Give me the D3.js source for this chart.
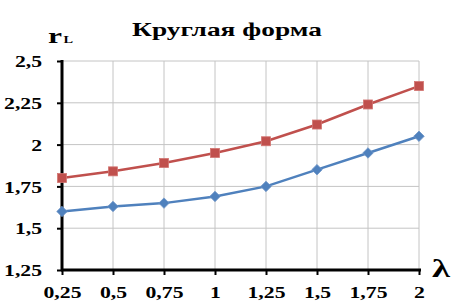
<!DOCTYPE html>
<html><head><meta charset="utf-8">
<script src="https://cdn.jsdelivr.net/npm/d3@7"></script>
<style>html,body{margin:0;padding:0;background:#fff;}
text{font-family:"Liberation Serif","Times New Roman","DejaVu Serif",serif;font-weight:bold;}</style>
</head><body>
<svg id="c" width="454" height="307"></svg>
<script>
const categories = [0.25, 0.5, 0.75, 1, 1.25, 1.5, 1.75, 2];
const xTickLabels = ["0,25","0,5","0,75","1","1,25","1,5","1,75","2"];
const redSeries = [1.80, 1.84, 1.89, 1.95, 2.02, 2.12, 2.24, 2.35];
const blueSeries = [1.60, 1.63, 1.65, 1.69, 1.75, 1.85, 1.95, 2.05];
const yTicks = [1.25, 1.5, 1.75, 2, 2.25, 2.5];
const yTickLabels = ["1,25","1,5","1,75","2","2,25","2,5"];
const title = "Круглая форма";

const svg = d3.select("#c");
// fit a text's horizontal stretch so that a sample string gets a given width
function stretchFor(sample, size, target) {
  const t = svg.append("text").attr("font-size", size).text(sample);
  const w = t.node().getComputedTextLength();
  t.remove();
  return target / w;
}
const SX = stretchFor("1,25", 16, 38);
const x = d3.scaleLinear().domain([0.25, 2]).range([62, 419]);
const y = d3.scaleLinear().domain([1.25, 2.5]).range([270, 61]);

// grid
const g = svg.append("g");
g.selectAll(".hg").data(yTicks.slice(1)).join("line")
  .attr("x1", 62).attr("x2", 419).attr("y1", d => y(d)).attr("y2", d => y(d))
  .attr("stroke", "#c4c4c4").attr("stroke-width", 1);
g.selectAll(".vg").data(categories.slice(1)).join("line")
  .attr("x1", d => x(d)).attr("x2", d => x(d)).attr("y1", 61).attr("y2", 270)
  .attr("stroke", "#c4c4c4").attr("stroke-width", 1);

// axes
const yAxis = d3.axisLeft(y).tickValues(yTicks).tickSize(5).tickFormat((d,i) => yTickLabels[i]);
const ya = svg.append("g").attr("transform", "translate(62,0)").call(yAxis);
ya.select(".domain").attr("stroke", "#000").attr("stroke-width", 3).attr("d", `M0,${y(2.5)-1}V${y(1.25)+1}`);
ya.selectAll(".tick line").attr("stroke", "#000").attr("stroke-width", 2);
ya.selectAll("text").attr("font-size", 16).attr("fill", "#000")
  .attr("x", -20 / SX).attr("dy", "0.35em").attr("transform", `scale(${SX},1)`);

const xAxis = d3.axisBottom(x).tickValues(categories).tickSize(5).tickFormat((d,i) => xTickLabels[i]);
const xa = svg.append("g").attr("transform", "translate(0,270)").call(xAxis);
xa.select(".domain").attr("stroke", "#000").attr("stroke-width", 3).attr("d", "M61,0H421");
xa.selectAll(".tick line").attr("stroke", "#000").attr("stroke-width", 2);
xa.selectAll("text").attr("font-size", 16).attr("fill", "#000")
  .attr("y", 28).attr("dy", 0).attr("transform", `scale(${SX},1)`);

// lines
const line = d3.line().x((d,i) => x(categories[i])).y(d => y(d));
svg.append("path").datum(redSeries).attr("d", line).attr("fill", "none").attr("stroke", "#c0504d").attr("stroke-width", 2.5);
svg.append("path").datum(blueSeries).attr("d", line).attr("fill", "none").attr("stroke", "#4f81bd").attr("stroke-width", 2.5);

svg.selectAll(".sq").data(redSeries).join("rect")
  .attr("x", (d,i) => x(categories[i]) - 4.5).attr("y", d => y(d) - 4.5)
  .attr("width", 9).attr("height", 9).attr("fill", "#c0504d").attr("stroke", "#d27572").attr("stroke-width", 0.8);
const diamond = d3.symbol().type(d3.symbolDiamond2).size(70);
svg.selectAll(".dm").data(blueSeries).join("path")
  .attr("d", diamond).attr("transform", (d,i) => `translate(${x(categories[i])},${y(d)})`)
  .attr("fill", "#4f81bd").attr("stroke", "#6f96c8").attr("stroke-width", 0.8);

// title
const TSX = stretchFor(title, 18, 190);
svg.append("text").attr("transform", `translate(227,36) scale(${TSX},1)`).attr("text-anchor", "middle")
  .attr("font-size", 18).text(title);

// y label r_L
const RSX = stretchFor("r", 22, 14);
const yl = svg.append("text").attr("transform", `translate(48,43) scale(${RSX},1)`);
yl.append("tspan").attr("font-size", 22).text("r");
yl.append("tspan").attr("font-size", 10).attr("dx", 1).text("L");

// x label λ
const LSX = stretchFor("λ", 26, 18);
svg.append("text").attr("transform", `translate(432,277) scale(${LSX},1)`).attr("font-size", 26).text("λ");
</script>
</body></html>
